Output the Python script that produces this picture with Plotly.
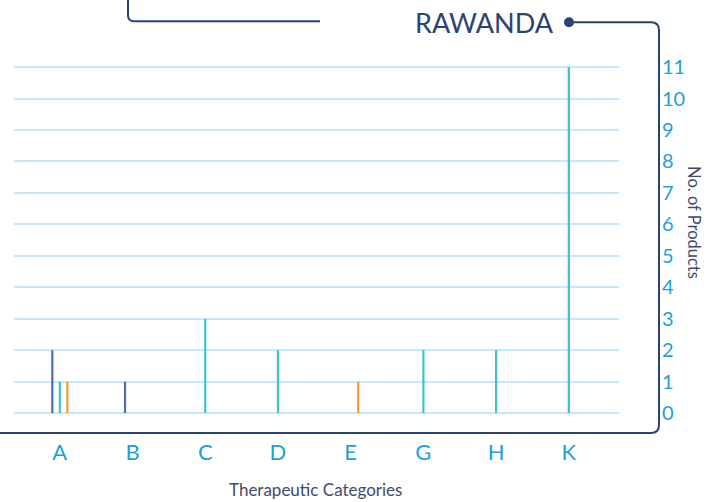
import plotly.graph_objects as go

# Therapeutic categories and product counts per series
categories = ["A", "B", "C", "D", "E", "G", "H", "K"]
series_blue = [2, 1, 0, 0, 0, 0, 0, 0]
series_teal = [1, 0, 3, 2, 0, 2, 2, 11]
series_orange = [1, 0, 0, 0, 1, 0, 0, 0]
y_ticks = list(range(0, 12))

W, H = 717, 502
Y_TOP = 11.1
ML, MR, MB = 14, 98, 89
MT = round(413 - 346 * Y_TOP / 11, 2)
PW, PH = W - ML - MR, H - MT - MB

NAVY = "#2b4372"
TICK_BLUE = "#1d9fdc"
LABEL_GREY = "#3f4b68"
FONT = "Lato, 'Open Sans', sans-serif"


def px(x):
    return (x - ML) / PW


def py(y):
    return (H - MB - y) / PH


def path(cmds):
    out = []
    for c in cmds:
        if c[0] in ("M", "L"):
            out.append(f"{c[0]} {px(c[1]):.5f},{py(c[2]):.5f}")
        else:  # quadratic curve
            out.append(f"Q {px(c[1]):.5f},{py(c[2]):.5f} {px(c[3]):.5f},{py(c[4]):.5f}")
    return " ".join(out)


bar_w = 0.03
slot = 0.103
traces = [
    ("Series 1", series_blue, "#4a6db3", -slot),
    ("Series 2", series_teal, "#3cc2c9", 0.0),
    ("Series 3", series_orange, "#f39a33", slot),
]

fig = go.Figure()
for name, vals, col, centre in traces:
    fig.add_trace(go.Bar(
        x=categories, y=vals, name=name,
        marker=dict(color=col, line=dict(width=0)),
        width=bar_w, offset=centre - bar_w / 2,
        showlegend=False,
    ))

fig.update_layout(
    width=W, height=H,
    margin=dict(l=ML, r=MR, t=MT, b=MB),
    paper_bgcolor="white", plot_bgcolor="white",
    barmode="group",
    font=dict(family=FONT),
    xaxis=dict(
        range=[-0.63, 7.69], showgrid=False, zeroline=False, showline=False,
        ticks="outside", ticklen=20, tickcolor="rgba(0,0,0,0)",
        tickfont=dict(size=22, color=TICK_BLUE, family=FONT),
    ),
    yaxis=dict(
        range=[0, Y_TOP], side="right", tickvals=y_ticks,
        showgrid=True, gridcolor="#c6e9f7", gridwidth=1.5,
        zeroline=True, zerolinecolor="#c6e9f7", zerolinewidth=1.5,
        showline=False,
        ticks="outside", ticklen=38, tickcolor="rgba(0,0,0,0)",
        tickfont=dict(size=20, color=TICK_BLUE, family=FONT),
    ),
    shapes=[
        dict(type="path", xref="paper", yref="paper",
             path=path([("M", 128, -2), ("L", 128, 15), ("Q", 128, 21, 134, 21), ("L", 320, 21)]),
             line=dict(color=NAVY, width=2)),
        dict(type="path", xref="paper", yref="paper",
             path=path([("M", 569, 22), ("L", 651, 22), ("Q", 659, 22, 659, 30),
                        ("L", 659, 425), ("Q", 659, 433, 651, 433), ("L", -5, 433)]),
             line=dict(color=NAVY, width=2)),
        dict(type="circle", xref="paper", yref="paper",
             x0=px(564), x1=px(574), y0=py(27), y1=py(17),
             fillcolor=NAVY, line=dict(color=NAVY, width=0)),
    ],
    annotations=[
        dict(text="RAWANDA", xref="paper", yref="paper", x=px(484), y=py(22),
             showarrow=False, font=dict(size=27, color=NAVY, family=FONT),
             xanchor="center", yanchor="middle"),
        dict(text="No. of Products", xref="paper", yref="paper", x=px(694), y=py(222),
             showarrow=False, textangle=90, font=dict(size=16.5, color=LABEL_GREY, family=FONT),
             xanchor="center", yanchor="middle"),
        dict(text="Therapeutic Categories", xref="paper", yref="paper", x=px(315), y=py(490),
             showarrow=False, font=dict(size=17, color=LABEL_GREY, family=FONT),
             xanchor="center", yanchor="middle"),
    ],
)

fig.write_html("out.html")
